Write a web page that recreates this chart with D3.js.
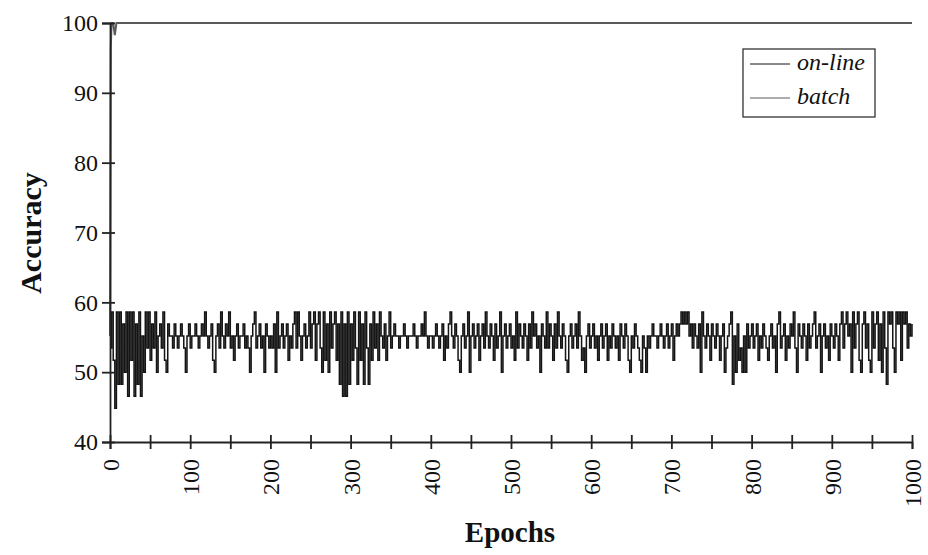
<!DOCTYPE html>
<html>
<head>
<meta charset="utf-8">
<script src="https://cdn.jsdelivr.net/npm/d3@7"></script>
<style>
  html, body { margin: 0; padding: 0; background: #fff; }
  svg { display: block; }
  text { font-family: "Liberation Serif", "DejaVu Serif", serif; fill: #111; }
</style>
</head>
<body>
<svg id="chart" width="928" height="555"></svg>
<script>
// Accuracy levels (k / 58 correct) used by the on-line run, in percent.
const A = 58.62, B = 56.9, C = 55.17, D = 53.45, E = 51.72, F = 50, G = 48.28, H = 46.55, I = 44.83;

// On-line training accuracy, sampled every 2 epochs, split by 200-epoch block.
const onlineEpochs0 = [
  D,A,E,I,A,G,A,G,B,F, A,H,A,E,A,H,B,G,A,H, C,F,A,D,A,E,B,D,A,F, C,B,D,A,E,F,B,C,C,D,
  B,C,D,C,B,C,D,F,C,B, D,C,C,B,C,D,C,B,C,A, C,D,C,B,E,F,C,B,D,A, C,D,B,C,A,D,C,E,C,B,
  D,C,C,B,D,C,D,F,C,B, A,D,C,B,D,C,F,B,C,D
];
const onlineEpochs200 = [
  C,D,B,F,A,D,C,B,D,C, B,E,C,D,B,A,D,A,C,E, C,B,D,C,A,D,B,A,E,B, A,D,F,A,E,B,F,A,D,B,
  A,E,B,G,A,H,B,H,A,G, B,E,A,D,G,A,E,B,G,A, D,G,B,E,A,D,B,E,A,C, D,B,E,C,A,D,C,B,C,C,
  D,C,C,B,C,D,C,C,C,B, C,D,C,C,B,C,A,C,D,C
];
const onlineEpochs400 = [
  C,D,C,B,C,D,C,B,E,C, D,B,A,C,D,B,C,E,F,C, B,D,C,A,F,C,B,D,C,B, E,C,B,D,A,C,D,B,C,E,
  B,D,C,A,F,C,B,D,C,B, D,C,E,A,D,B,C,D,B,C, E,B,D,A,C,B,D,C,F,B, C,D,A,D,B,C,E,B,D,A,
  C,D,B,C,E,F,C,B,D,C, B,D,A,C,E,D,F,C,B,D
];
const onlineEpochs600 = [
  C,B,D,C,E,C,B,D,C,B, E,C,D,B,C,D,C,E,B,C, D,B,C,E,F,C,D,B,C,D, E,F,C,D,F,C,D,C,B,C,
  C,D,C,B,C,D,C,B,D,C, B,E,C,B,C,B,A,B,A,B, A,C,B,D,B,C,D,B,F,A, C,D,B,C,E,B,C,D,B,C,
  E,C,B,F,D,C,B,A,G,C, F,B,E,D,F,C,F,B,D,C
];
const onlineEpochs800 = [
  B,D,C,B,E,C,D,B,C,D, E,C,B,D,C,F,B,A,D,C, B,E,C,D,B,C,A,D,F,B, C,D,B,C,E,B,D,C,B,A,
  D,C,B,F,C,B,D,C,E,B, C,D,B,C,E,B,A,D,B,A, C,B,F,A,D,B,A,E,F,B, A,D,B,E,F,A,D,B,A,E,
  B,F,A,D,G,A,B,A,D,F, A,B,A,E,A,B,A,D,B,C, B
];
const onlineBlocks = [
  { start: 0,   values: onlineEpochs0 },
  { start: 200, values: onlineEpochs200 },
  { start: 400, values: onlineEpochs400 },
  { start: 600, values: onlineEpochs600 },
  { start: 800, values: onlineEpochs800 }
];
const sampleStep = 2;

// Batch training accuracy: climbs to 100% within the first epochs and stays there.
const batchEpochs = [0, 1, 2, 4, 6, 8, 1000];
const batchValues = [55.17, 96.55, 100, 100, 98.28, 100, 100];

const yTicks = [40, 50, 60, 70, 80, 90, 100];
const xTicks = d3.range(0, 1001, 50);
const xLabelled = [0, 100, 200, 300, 400, 500, 600, 700, 800, 900, 1000];

const seriesNames = ["on-line", "batch"];
const seriesColors = { "on-line": "#151515", "batch": "#5a5a5a" };

const online = onlineBlocks.flatMap(b =>
  b.values.map((v, i) => ({ epoch: b.start + i * sampleStep, value: v })));
const batch = batchEpochs.map((e, i) => ({ epoch: e, value: batchValues[i] }));

const svg = d3.select("#chart");
const x = d3.scaleLinear().domain([0, 1000]).range([110, 912]);
const y = d3.scaleLinear().domain([40, 100]).range([442, 23]);

// accuracy holds its value until the next evaluation: step curve
const stepLine = d3.line().curve(d3.curveStepAfter).x(d => x(d.epoch)).y(d => y(d.value));
const line = d3.line().x(d => x(d.epoch)).y(d => y(d.value));

// series
svg.append("path")
  .datum(online)
  .attr("fill", "none")
  .attr("stroke", seriesColors["on-line"])
  .attr("stroke-width", 1.5)
  .attr("d", stepLine);

svg.append("path")
  .datum(batch)
  .attr("fill", "none")
  .attr("stroke", seriesColors["batch"])
  .attr("stroke-width", 2)
  .attr("d", line);

// y axis: ticks crossing the axis line
const yLeft = svg.append("g").attr("transform", "translate(110,0)")
  .call(d3.axisLeft(y).tickValues(yTicks).tickSize(8).tickPadding(4).tickFormat(d3.format("d")));
svg.append("g").attr("transform", "translate(110,0)")
  .call(d3.axisRight(y).tickValues(yTicks).tickSize(5).tickFormat(""))
  .call(g => g.select(".domain").remove());

// x axis: ticks crossing the axis line, rotated labels every 100
const xBottom = svg.append("g").attr("transform", "translate(0,442)")
  .call(d3.axisBottom(x).tickValues(xTicks).tickSize(7)
    .tickFormat(d => xLabelled.includes(d) ? String(d) : ""));
svg.append("g").attr("transform", "translate(0,442)")
  .call(d3.axisTop(x).tickValues(xTicks).tickSize(7).tickFormat(""))
  .call(g => g.select(".domain").remove());

[yLeft, xBottom].forEach(g => {
  g.select(".domain").attr("stroke", "#222").attr("stroke-width", 1.8);
});
svg.selectAll(".tick line").attr("stroke", "#222").attr("stroke-width", 1.8);
svg.selectAll(".tick text").style("font-size", "24px").style("font-family", "'Liberation Serif', serif").attr("fill", "#111");

xBottom.selectAll(".tick text")
  .attr("transform", "rotate(-90)")
  .attr("text-anchor", "end")
  .attr("x", -17)
  .attr("y", 0)
  .attr("dy", "0.35em");

// axis titles
svg.append("text")
  .attr("x", 510).attr("y", 542)
  .attr("text-anchor", "middle")
  .style("font-size", "29px").style("font-weight", "bold")
  .text("Epochs");

svg.append("text")
  .attr("transform", "translate(41,233) rotate(-90)")
  .attr("text-anchor", "middle")
  .style("font-size", "30px").style("font-weight", "bold")
  .text("Accuracy");

// legend
const legend = svg.append("g");
legend.append("rect")
  .attr("x", 743).attr("y", 49).attr("width", 132).attr("height", 68)
  .attr("fill", "#fff").attr("stroke", "#333").attr("stroke-width", 1.3);
seriesNames.forEach((name, i) => {
  const ly = 64 + i * 34;
  legend.append("line")
    .attr("x1", 750).attr("x2", 790).attr("y1", ly).attr("y2", ly)
    .attr("stroke", seriesColors[name]).attr("stroke-width", 1);
  legend.append("text")
    .attr("x", 797).attr("y", ly + 6)
    .style("font-size", "24px").style("font-style", "italic")
    .text(name);
});
</script>
</body>
</html>
